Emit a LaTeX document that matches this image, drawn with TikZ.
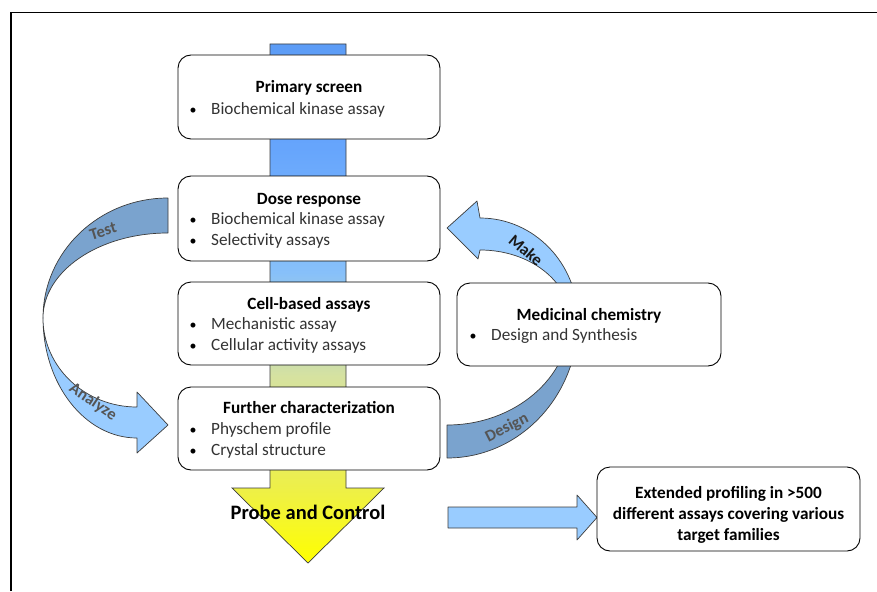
\documentclass[tikz,border=0pt]{standalone}
\usepackage{fontspec}
\setmainfont{Carlito}
\definecolor{darkband}{RGB}{122,163,206}
\definecolor{lightband}{RGB}{153,204,255}
\definecolor{labelgray}{RGB}{85,85,85}
\definecolor{edgegray}{RGB}{60,60,60}
\definecolor{bcA}{RGB}{255,255,0}
\definecolor{bcB}{RGB}{238,240,70}
\definecolor{bcC}{RGB}{214,226,160}
\definecolor{bcD}{RGB}{135,192,250}
\definecolor{bcE}{RGB}{102,165,252}
\definecolor{bcF}{RGB}{92,156,246}
\pgfdeclareverticalshading{barshade}{100bp}{color(0bp)=(bcA); color(25bp)=(bcA); color(32bp)=(bcB); color(43bp)=(bcC); color(53bp)=(bcD); color(65bp)=(bcE); color(75bp)=(bcF); color(100bp)=(bcF)}
\begin{document}
\begin{tikzpicture}[x=1pt,y=-1pt,
  box/.style={draw=black, line width=0.9pt, rounded corners=13pt, fill=white, inner sep=0pt, minimum width=262pt, minimum height=84pt},
  headtxt/.style={font=\fontsize{17.2}{20}\selectfont\bfseries, anchor=base, inner sep=0pt},
  bultxt/.style={font=\fontsize{17.2}{20}\selectfont, anchor=base west, inner sep=0pt, text=black!80},
  bul/.style={font=\fontsize{14}{17}\selectfont, anchor=base, inner sep=0pt},
  band/.style={draw=edgegray, line width=0.7pt, line join=round},
  arrlabel/.style={font=\fontsize{16.5}{19}\selectfont\bfseries, text=labelgray, inner sep=0pt}
]
\useasboundingbox (0,0) rectangle (877,591);
% frame
\draw[line width=1.2pt] (11,591) -- (11,12.5) -- (877,12.5);

% central shaded bar with head
\path[shading=barshade, draw=edgegray, line width=0.7pt]
  (270,44) -- (346,44) -- (346,488) -- (384,488) -- (308,563) -- (232,488) -- (270,488) -- cycle;

% left curved arrow (Test / Analyze)
\filldraw[band, fill=darkband]
  (168,198) .. controls (99,198) and (43,251.7) .. (43,318)
  .. controls (43,271.1) and (99,233) .. (168,233) -- cycle;
\filldraw[band, fill=lightband]
  (43,318) .. controls (43,384.3) and (85.1,438) .. (137,438)
  -- (137,453) -- (168,425) -- (137,392) -- (137,407)
  .. controls (85.1,407) and (43,367.2) .. (43,318) -- cycle;
\node[arrlabel, rotate=17] (ltest) at (103,231) {Test};
\node[arrlabel, rotate=-34] (lanalyze) at (93,402) {Analyze};

% right curved arrow (Make / Design)
\filldraw[band, fill=darkband]
  (447,458) .. controls (519.4,458) and (578,396.2) .. (578,320)
  -- (570,320)
  .. controls (570,377.6) and (514.9,425) .. (447,425) -- cycle;
\filldraw[band, fill=lightband]
  (578,320) .. controls (578,263.7) and (534.1,218) .. (480,218)
  -- (477,201) -- (447,228) -- (478,259) -- (480,250)
  .. controls (529.7,250) and (570,281.3) .. (570,320) -- cycle;
\node[arrlabel, rotate=-40, text=black!90] (lmake) at (526,250) {Make};
\node[arrlabel, rotate=27] (ldesign) at (507,428) {Design};

% straight arrow to extended profiling
\filldraw[band, fill=lightband]
  (448,507) -- (577,507) -- (577,495) -- (597,517.5) -- (577,540) -- (577,528) -- (448,528) -- cycle;

% boxes
\node[box] (ps) at (309,97) {};
\node[box, minimum height=85pt] (dr) at (309,218.5) {};
\node[box, minimum height=83pt] (cb) at (309,323.5) {};
\node[box, minimum height=83pt] (fc) at (309,428.5) {};
\node[box, minimum width=264pt, minimum height=83pt] (mc) at (589,324.5) {};
\node[box, minimum width=263pt, minimum height=84pt] (ep) at (728.5,509) {};

% texts
\node[headtxt] (psh) at (309,93) {Primary screen};
\node[bul] (psb1) at (193,114) {•};
\node[bultxt] (pst1) at (211,114) {Biochemical kinase assay};

\node[headtxt] (drh) at (309,204) {Dose response};
\node[bul] (drb1) at (193,224.5) {•};
\node[bultxt] (drt1) at (211,224.5) {Biochemical kinase assay};
\node[bul] (drb2) at (193,245) {•};
\node[bultxt] (drt2) at (211,245) {Selectivity assays};

\node[headtxt] (cbh) at (309,309) {Cell-based assays};
\node[bul] (cbb1) at (193,329.5) {•};
\node[bultxt] (cbt1) at (211,329.5) {Mechanistic assay};
\node[bul] (cbb2) at (193,350) {•};
\node[bultxt] (cbt2) at (211,350) {Cellular activity assays};

\node[headtxt] (fch) at (309,413.5) {Further characterization};
\node[bul] (fcb1) at (193,434.5) {•};
\node[bultxt] (fct1) at (211,434.5) {Physchem profile};
\node[bul] (fcb2) at (193,455) {•};
\node[bultxt] (fct2) at (211,455) {Crystal structure};

\node[headtxt] (mch) at (589,320.5) {Medicinal chemistry};
\node[bul] (mcb1) at (473,340.5) {•};
\node[bultxt] (mct1) at (491,340.5) {Design and Synthesis};

\node[headtxt] (ep1) at (728.5,498) {Extended profiling in >500};
\node[headtxt] (ep2) at (728.5,519) {different assays covering various};
\node[headtxt] (ep3) at (728.5,540) {target families};

\node[font=\fontsize{20.5}{24}\selectfont\bfseries, anchor=base, inner sep=0pt] (probe) at (308,519.5) {Probe and Control};
\end{tikzpicture}
\end{document}
